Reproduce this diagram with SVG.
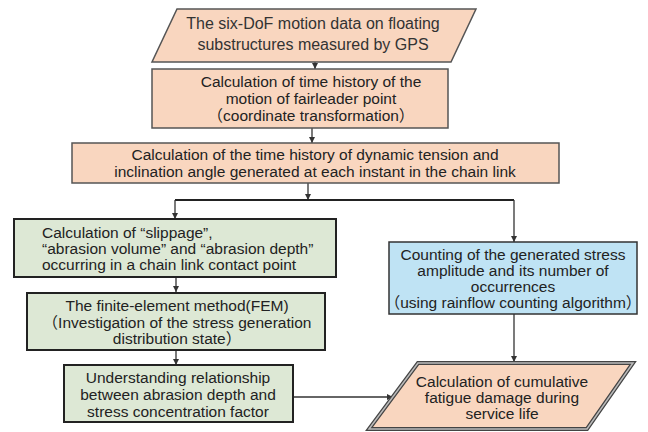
<svg xmlns="http://www.w3.org/2000/svg" width="648" height="432" viewBox="0 0 648 432">
<defs>
<style>
.t{font-family:"Liberation Sans","Noto Sans CJK JP",sans-serif;font-size:15.5px;fill:#222;text-anchor:middle}
.ta{font-family:"Liberation Sans",Arial,sans-serif;font-size:16px;fill:#333;text-anchor:middle}
.l{text-anchor:start}
.peach{fill:#F9D6BF;stroke:#555;stroke-width:1.5}
.green{fill:#DDE8D5;stroke:#222;stroke-width:2}
.blue{fill:#BFE3F4;stroke:#333;stroke-width:1.5}
.c{fill:none;stroke:#333;stroke-width:1.3}
</style>
<marker id="ah" viewBox="0 0 10 10" refX="10" refY="5" markerWidth="6" markerHeight="6" orient="auto" markerUnits="userSpaceOnUse">
<path d="M0,0 L10,5 L0,10 z" fill="#333"/>
</marker>
</defs>
<rect width="648" height="432" fill="#fff"/>
<g id="connectors">
<line class="c" x1="315" y1="62" x2="315" y2="69" marker-end="url(#ah)"/>
<line class="c" x1="312" y1="128" x2="312" y2="143" marker-end="url(#ah)"/>
<line class="c" x1="308" y1="183" x2="308" y2="200" marker-end="url(#ah)"/>
<polyline fill="none" stroke="#222" stroke-width="2.2" points="175,200 514,200"/>
<line class="c" x1="175" y1="200" x2="175" y2="219" marker-end="url(#ah)"/>
<line class="c" x1="514" y1="200" x2="514" y2="242" marker-end="url(#ah)"/>
<line class="c" x1="176" y1="277" x2="176" y2="292" marker-end="url(#ah)"/>
<line class="c" x1="176" y1="350" x2="176" y2="365" marker-end="url(#ah)"/>
<line class="c" x1="514" y1="314" x2="514" y2="362" marker-end="url(#ah)"/>
<line class="c" x1="293" y1="397" x2="393" y2="397" marker-end="url(#ah)"/>
</g>
<g id="n1">
<polygon class="peach" points="177,9 476,9 451,62 152,62"/>
<text class="ta" x="313" y="29">The six-DoF motion data on floating</text>
<text class="ta" x="313" y="50">substructures measured by GPS</text>
</g>
<g id="n2">
<rect class="peach" x="152" y="69" width="296" height="59"/>
<text class="t" x="311" y="87">Calculation of time history of the</text>
<text class="t" x="311" y="104">motion of fairleader point</text>
<text class="t" x="311" y="121">（coordinate transformation）</text>
</g>
<g id="n3">
<rect class="peach" x="72" y="143" width="487" height="40"/>
<text class="t" x="315" y="160">Calculation of the time history of dynamic tension and</text>
<text class="t" x="315" y="177">inclination angle generated at each instant in the chain link</text>
</g>
<g id="n4">
<rect class="green" x="14" y="219" width="322" height="58"/>
<text class="t l" x="42" y="238">Calculation of “slippage”,</text>
<text class="t l" x="42" y="254">“abrasion volume” and “abrasion depth”</text>
<text class="t l" x="42" y="270">occurring in a chain link contact point</text>
</g>
<g id="n5">
<rect class="green" x="27" y="293" width="298" height="57"/>
<text class="t" x="177" y="311">The finite-element method(FEM)</text>
<text class="t" x="177" y="328">（Investigation of the stress generation</text>
<text class="t" x="177" y="344">distribution state）</text>
</g>
<g id="n6">
<rect class="green" x="64" y="365" width="229" height="57"/>
<text class="t" x="178" y="383">Understanding relationship</text>
<text class="t" x="178" y="400">between abrasion depth and</text>
<text class="t" x="178" y="417">stress concentration factor</text>
</g>
<g id="n7">
<rect class="blue" x="389" y="242" width="248" height="72"/>
<text class="t" x="513" y="260">Counting of the generated stress</text>
<text class="t" x="513" y="276">amplitude and its number of</text>
<text class="t" x="513" y="292">occurrences</text>
<text class="t" x="513" y="308">（using rainflow counting algorithm）</text>
</g>
<g id="n8">
<polygon points="418,363 633,363 587,429 369,429" fill="#F9D6BF" stroke="#444" stroke-width="4"/>
<polygon points="418,363 633,363 587,429 369,429" fill="none" stroke="#bbb" stroke-width="1.5"/>
<text class="t" x="502" y="387">Calculation of cumulative</text>
<text class="t" x="502" y="403">fatigue damage during</text>
<text class="t" x="502" y="419">service life</text>
</g>
</svg>
